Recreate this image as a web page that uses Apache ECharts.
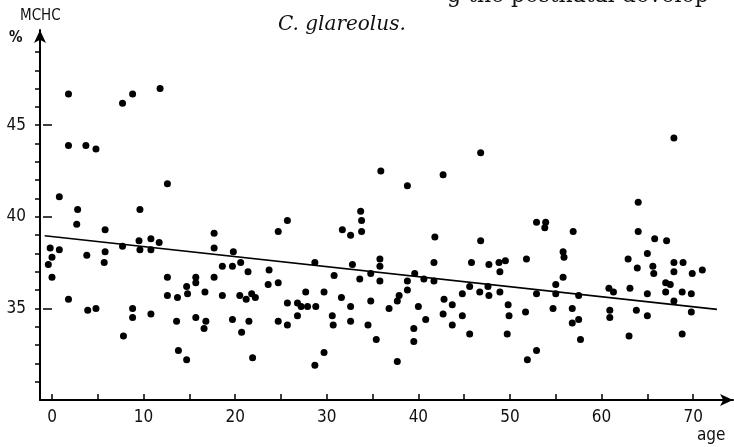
<!DOCTYPE html>
<html>
<head>
<meta charset="utf-8">
<style>html,body{margin:0;padding:0;background:#fff;}#chart{width:734px;height:447px;}</style>
<script src="https://cdn.jsdelivr.net/npm/echarts@6/dist/echarts.min.js"></script>
</head>
<body>
<div id="chart"></div>
<script>
const ages = [
1.8,7.7,8.8,11.8,1.8,3.7,4.8,0.8,2.8,2.7,5.8,12.6,9.6,-0.2,0,-0.4,0,0.8,3.8,5.8,5.7,7.7,9.5,9.6,10.8,10.8,11.7,12.6,12.6,13.7,14.7,14.8,15.7,15.7,16.7,17.7,17.7,17.7,18.6,18.6,19.8,19.7,20.6,21.4,20.5,1.8,
3.9,4.8,8.8,8.8,7.8,10.8,21.2,13.6,15.7,16.8,16.6,13.8,14.7,19.7,20.7,21.5,21.9,
46.8,35.9,38.8,42.7,25.7,24.7,31.7,32.6,33.7,33.8,33.8,41.8,46.8,23.7,23.6,24.7,28.7,30.8,32.8,33.6,34.8,35.8,35.8,35.8,38.8,38.8,39.6,40.6,41.7,41.7,45.8,45.6,46.7,47.7,47.6,21.8,22.2,27.7,29.7,31.6,37.9,42.8,
24.7,25.7,25.7,26.8,26.8,27.2,27.9,28.8,28.7,29.7,30.6,30.7,32.6,32.6,34.5,34.8,35.4,36.8,37.7,37.7,39.5,39.5,40.0,40.8,42.7,43.7,43.7,44.8,44.8,45.6,47.7,
67.9,64.0,52.9,53.9,53.8,56.9,64.0,65.8,67.1,65.0,62.9,55.8,55.9,51.8,48.8,49.5,48.9,63.9,65.6,65.7,67.9,68.9,67.9,69.9,71.0,55.8,55.0,48.9,52.9,55.0,57.5,60.8,61.3,63.1,65.0,67.0,67.5,67.0,68.8,69.8,
49.8,49.9,49.7,51.7,52.9,51.9,54.7,56.8,56.8,57.5,57.7,60.9,60.9,63.0,63.8,65.0,67.9,69.8,68.8
];
const mchc = [
46.7,46.2,46.7,47.0,43.9,43.9,43.7,41.1,40.4,39.6,39.3,41.8,40.4,38.3,37.8,37.4,36.7,38.2,37.9,38.1,37.5,38.4,38.7,38.2,38.8,38.2,38.6,36.7,35.7,35.6,36.2,35.8,36.7,36.4,35.9,39.1,38.3,36.7,35.7,37.3,38.1,37.3,37.5,37.0,35.7,35.5,
34.9,35.0,35.0,34.5,33.5,34.7,35.5,34.3,34.5,34.3,33.9,32.7,32.2,34.4,33.7,34.3,32.3,
43.5,42.5,41.7,42.3,39.8,39.2,39.3,39.0,40.3,39.8,39.2,38.9,38.7,37.1,36.3,36.4,37.5,36.8,37.4,36.6,36.9,37.7,37.3,36.5,36.5,36.0,36.9,36.6,36.5,37.5,37.5,36.2,35.9,37.4,36.2,35.8,35.6,35.9,35.9,35.6,35.7,35.5,
34.3,35.3,34.1,35.3,34.6,35.1,35.1,35.1,31.9,32.6,34.6,34.1,35.1,34.3,34.1,35.4,33.3,35.0,35.4,32.1,33.9,33.2,35.1,34.4,34.7,35.2,34.1,35.8,34.6,33.6,35.7,
44.3,40.8,39.7,39.7,39.4,39.2,39.2,38.8,38.7,38.0,37.7,38.1,37.8,37.7,37.5,37.6,37.0,37.2,37.3,36.9,37.5,37.5,37.0,36.9,37.1,36.7,36.3,35.9,35.8,35.8,35.7,36.1,35.9,36.1,35.8,36.4,36.3,35.9,35.9,35.8,
35.2,34.6,33.6,34.8,32.7,32.2,35.0,35.0,34.2,34.4,33.3,34.9,34.5,33.5,34.9,34.6,35.4,34.8,33.6
];
const trendAges = [-0.8, 72.6];
const trendValues = [38.97, 34.95];
const xTickValues = [0,5,10,15,20,25,30,35,40,45,50,55,60,65,70];
const xLabelValues = [0,10,20,30,40,50,60,70];
const yTickValues = [31,32,33,34,35,36,37,38,39,40,41,42,43,44,45,46,47,48,49];
const yLabelValues = [35,40,45];

const axisFont = "'Liberation Sans Narrow','DejaVu Sans Condensed',sans-serif";
const chart = echarts.init(document.getElementById('chart'), null, {renderer:'canvas'});
const points = ages.map((a,i)=>[a, mchc[i]]);
const trend = trendAges.map((a,i)=>[a, trendValues[i]]);
chart.setOption({
  animation:false,
  backgroundColor:'#fff',
  title:{text:'C. glareolus.', left:273, top:10,
    textStyle:{fontFamily:"'DejaVu Serif',serif", fontStyle:'italic', fontWeight:'normal', fontSize:20, color:'#111'}},
  grid:{left:40, right:1, top:30, bottom:47, containLabel:false},
  xAxis:[{type:'value', min:-1.31, max:74.35, splitLine:{show:false},
    axisLine:{show:true, onZero:false, lineStyle:{color:'#000', width:2}, symbol:['none','arrow'], symbolSize:[9,13]},
    axisTick:{show:true, inside:true, length:6, customValues:xTickValues, lineStyle:{color:'#000', width:1.5}},
    axisLabel:{customValues:xLabelValues, margin:9, fontFamily:axisFont, fontSize:17, color:'#111'}
  }],
  yAxis:[{type:'value', min:30, max:50.2, splitLine:{show:false},
    axisLine:{show:true, onZero:false, lineStyle:{color:'#000', width:2}, symbol:['none','arrow'], symbolSize:[9,13]},
    axisTick:{show:true, length:5, customValues:yTickValues, lineStyle:{color:'#000', width:1.5}},
    axisLabel:{customValues:yLabelValues, margin:14, fontFamily:axisFont, fontSize:17, color:'#111'}
  },{type:'value', min:30, max:50.2, position:'left', splitLine:{show:false},
    axisLine:{show:false},
    axisTick:{show:true, length:9, customValues:yLabelValues, lineStyle:{color:'#000', width:1.5}},
    axisLabel:{show:false}
  }],
  graphic:[
    {type:'text', left:20, top:9, style:{text:'MCHC', font:"15px 'DejaVu Sans Condensed',sans-serif", fill:'#111'}},
    {type:'text', left:9, top:31, style:{text:'%', font:"bold 15px 'DejaVu Sans Condensed',sans-serif", fill:'#111'}},
    {type:'text', left:697, top:427, style:{text:'age', font:"17px 'Liberation Sans Narrow','DejaVu Sans Condensed',sans-serif", fill:'#111'}},
    {type:'text', x:447, y:7, style:{text:'g the postnatal develop', font:"22px 'DejaVu Serif',serif", fill:'#111', verticalAlign:'bottom'}}
  ],
  series:[
    {type:'scatter', data:points, symbol:'circle', symbolSize:7, itemStyle:{color:'#000', opacity:1}, silent:true},
    {type:'line', data:trend, symbol:'none', lineStyle:{color:'#000', width:1.6}, silent:true}
  ]
});
</script>
</body>
</html>
